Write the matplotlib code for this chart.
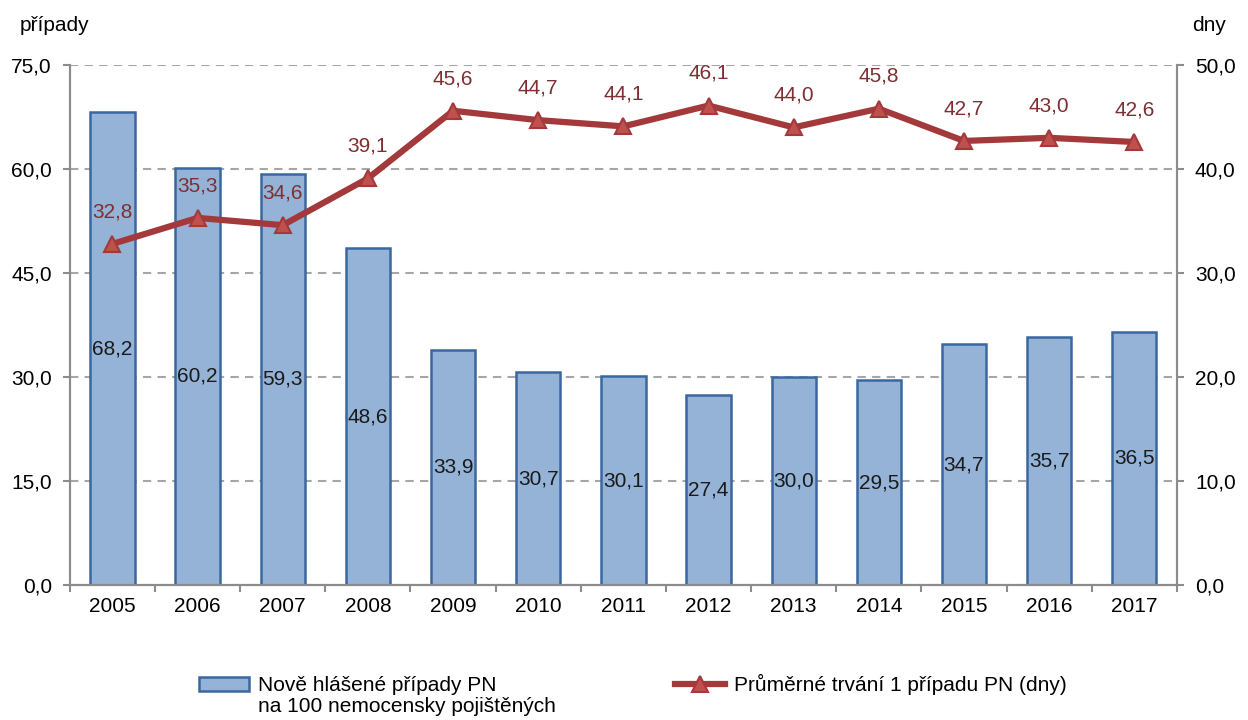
import matplotlib.pyplot as plt
import numpy as np

plt.rcParams['font.family'] = ['Liberation Sans', 'DejaVu Sans']

years = ['2005', '2006', '2007', '2008', '2009', '2010', '2011',
         '2012', '2013', '2014', '2015', '2016', '2017']
cases = [68.2, 60.2, 59.3, 48.6, 33.9, 30.7, 30.1, 27.4, 30.0, 29.5, 34.7, 35.7, 36.5]
duration = [32.8, 35.3, 34.6, 39.1, 45.6, 44.7, 44.1, 46.1, 44.0, 45.8, 42.7, 43.0, 42.6]

bar_face = '#95B3D7'
bar_edge = '#3A67A0'
line_col = '#A3393B'
label_col = '#7F2F32'
axis_col = '#8C8C8C'
fs = 15

fig = plt.figure(figsize=(12.48, 7.2), dpi=100)
ax = fig.add_axes([0.056, 0.1875, 0.887, 0.7222])
ax2 = ax.twinx()

x = np.arange(len(years))
ax.bar(x, cases, width=0.52, color=bar_face, edgecolor=bar_edge, linewidth=1.8,
       label='Nově hlášené případy PN', zorder=2)
for xi, v in zip(x, cases):
    ax.text(xi, v / 2, f'{v:.1f}'.replace('.', ','), ha='center', va='center',
            fontsize=fs, color='#1a1a1a', zorder=3)

ax2.plot(x, duration, color=line_col, linewidth=4.5, marker='^', markersize=11,
         markerfacecolor='#C0504D', markeredgecolor=line_col, markeredgewidth=1.5,
         label='Průměrné trvání 1 případu PN (dny)', zorder=4)
for xi, v in zip(x, duration):
    ax2.text(xi, v + 3.1, f'{v:.1f}'.replace('.', ','), ha='center', va='center',
             fontsize=fs, color=label_col)

ax.set_xlim(-0.5, len(years) - 0.5)
ax.set_ylim(0, 75)
ax2.set_ylim(0, 50)
ax.set_yticks(np.arange(0, 76, 15))
ax2.set_yticks(np.arange(0, 51, 10))
fmt = lambda vals: [f'{v:.1f}'.replace('.', ',') for v in vals]
ax.set_yticklabels(fmt(np.arange(0, 76, 15)))
ax2.set_yticklabels(fmt(np.arange(0, 51, 10)))

ax.set_xticks(x)
ax.set_xticklabels(years)
ax.set_xticks(np.arange(-0.5, len(years), 1), minor=True)
ax.tick_params(axis='x', which='major', length=0, pad=9, labelsize=fs)
ax.tick_params(axis='x', which='minor', length=5, color=axis_col, width=1.5)
ax.tick_params(axis='y', length=5, color=axis_col, width=1.5, labelsize=fs, pad=8)
ax2.tick_params(axis='y', length=5, color=axis_col, width=1.5, labelsize=fs, pad=8)

ax.yaxis.grid(True, linestyle=(0, (4, 3)), color='#A6A6A6', linewidth=1.5, zorder=0)
ax.set_axisbelow(True)

for a in (ax, ax2):
    a.spines['top'].set_visible(False)
    for s in ('left', 'right', 'bottom'):
        a.spines[s].set_color(axis_col)
        a.spines[s].set_linewidth(1.5)

fig.text(0.016, 0.965, 'případy', fontsize=fs, ha='left', va='center')
fig.text(0.955, 0.965, 'dny', fontsize=fs, ha='left', va='center')

ax.set_zorder(ax2.get_zorder() - 1)
ax.patch.set_visible(True)
ax2.patch.set_visible(False)

h1, l1 = ax.get_legend_handles_labels()
h2, l2 = ax2.get_legend_handles_labels()
leg = fig.legend(h1 + h2, l1 + l2, loc='center', bbox_to_anchor=(0.507, 0.049), ncol=2,
                 frameon=False, fontsize=fs, handlelength=2.4, columnspacing=8.6,
                 handletextpad=0.4)

# second line of the bar legend entry, placed under the first one
fig.canvas.draw()
bb = leg.get_texts()[0].get_window_extent()
x0 = bb.x0 / fig.bbox.width
fig.text(x0, 0.019, 'na 100 nemocensky pojištěných', fontsize=fs, ha='left', va='center')

fig.savefig('out.png', dpi=100)
